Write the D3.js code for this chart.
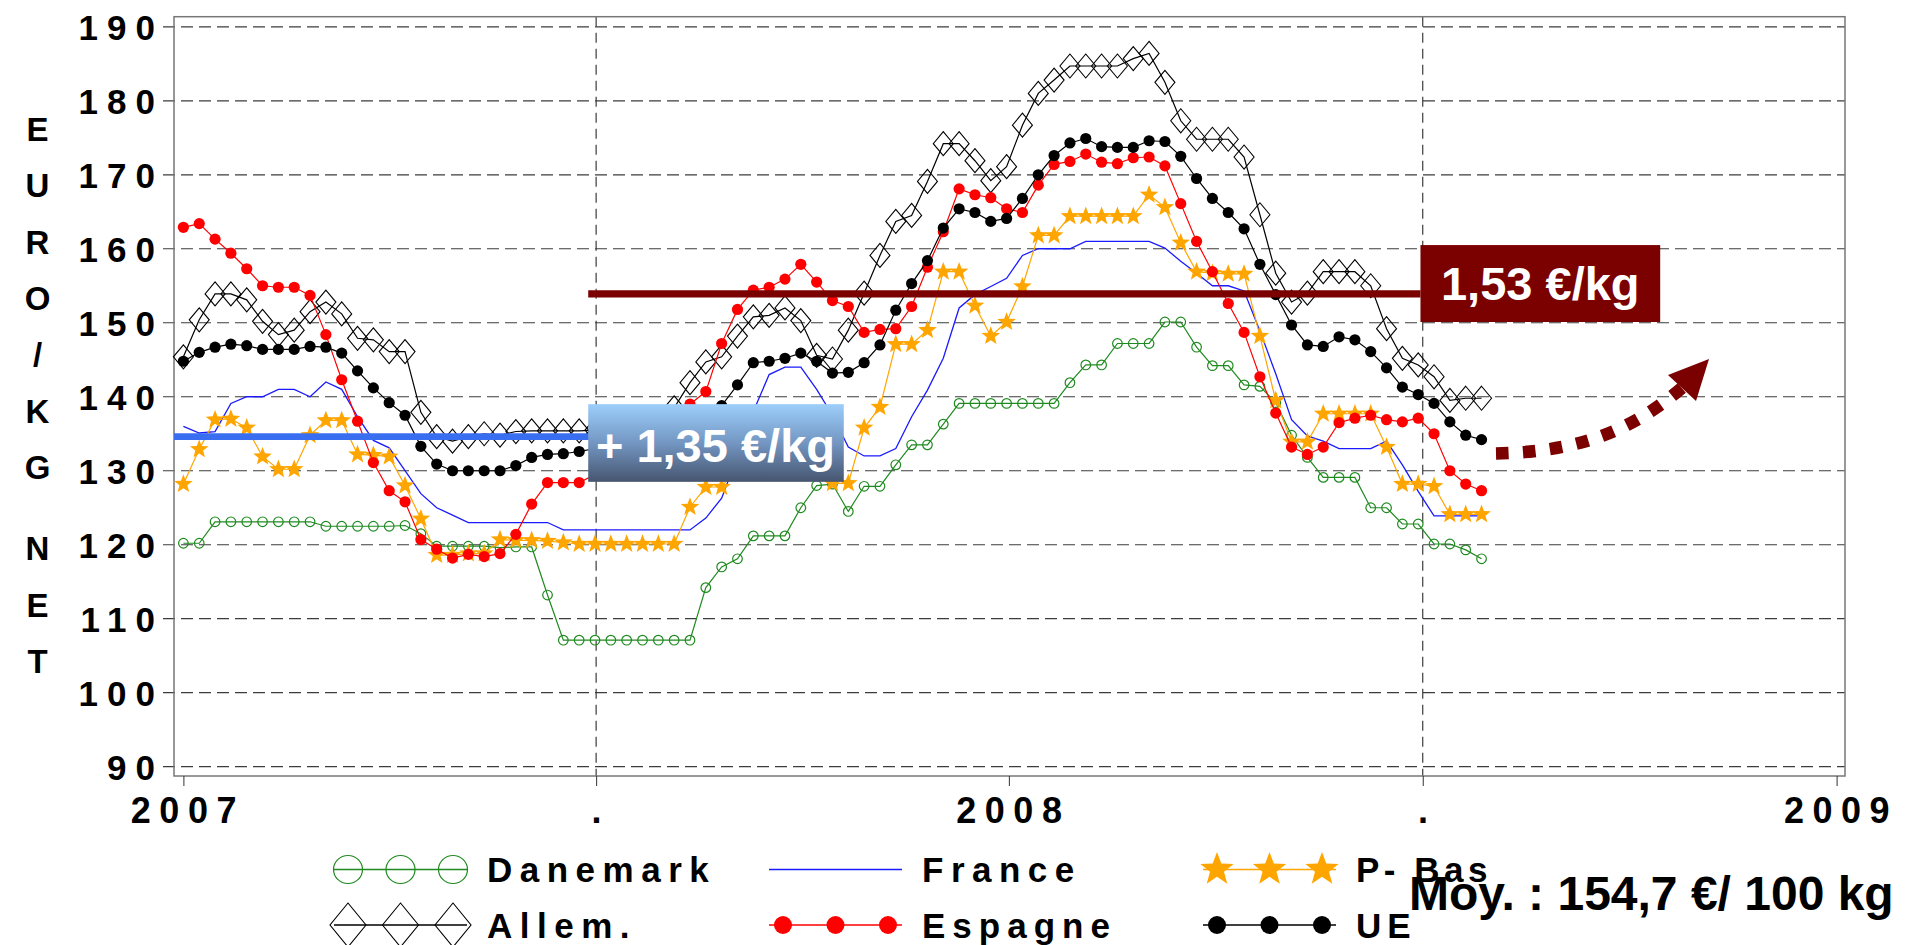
<!DOCTYPE html>
<html>
<head>
<meta charset="utf-8">
<script src="https://d3js.org/d3.v7.min.js"></script>
<style>
body { margin: 0; background: #ffffff; }
text { font-family: "Liberation Sans", Arial, sans-serif; font-weight: bold; }
</style>
</head>
<body>
<script>
//wrap everything in a self-executing function
(function(){

//weekly prices, euro / 100 kg net, first week = 1 Jan 2007
var firstWeek = new Date(2007, 0, 1);

var danemark = [120.2,120.2,123.1,123.1,123.1,123.1,123.1,123.1,123.1,122.5,
    122.5,122.5,122.5,122.5,122.6,121.5,119.8,119.8,119.8,119.8,
    119.6,119.7,119.7,113.2,107.1,107.1,107.1,107.1,107.1,107.1,
    107.1,107.1,107.1,114.2,117.0,118.1,121.2,121.2,121.2,125.0,
    128.0,128.2,124.5,127.9,127.9,130.8,133.5,133.5,136.3,139.1,
    139.1,139.1,139.1,139.1,139.1,139.1,141.9,144.3,144.3,147.2,
    147.2,147.2,150.1,150.1,146.7,144.2,144.2,141.6,141.4,139.2,
    134.8,131.8,129.1,129.1,129.1,125.0,125.0,122.8,122.8,120.1,
    120.1,119.3,118.1];

var allemagne = [145.4,150.4,153.9,153.9,153.1,150.2,148.4,149.0,151.5,152.8,
    151.2,147.9,147.7,146.1,146.1,137.9,134.6,134.0,134.6,135.0,
    134.8,135.3,135.4,135.4,135.4,135.4,135.5,135.5,136.0,136.5,
    137.0,138.5,141.9,144.7,145.4,148.2,150.8,151.0,152.0,150.3,
    145.6,145.1,149.0,154.0,159.1,163.7,164.5,169.1,174.2,174.2,
    171.9,169.2,171.1,176.7,181.0,182.8,184.7,184.7,184.7,184.7,
    185.7,186.4,182.5,177.3,174.8,174.8,174.8,172.4,164.6,156.7,
    152.8,154.0,156.9,156.9,156.9,155.0,149.2,145.2,144.3,142.7,
    139.5,139.8,139.8];

var france = [136.0,135.1,135.3,139.1,140.0,140.0,141.0,141.0,140.0,142.0,
    141.0,137.3,134.1,133.1,130.0,126.9,125.0,124.0,123.0,123.0,
    123.0,123.0,123.0,123.0,122.0,122.0,122.0,122.0,122.0,122.0,
    122.0,122.0,122.0,123.6,126.3,132.0,138.0,143.0,144.0,144.0,
    141.0,137.5,133.2,132.0,132.0,133.0,137.3,140.9,145.2,152.0,
    153.8,154.9,156.0,159.1,160.0,160.0,160.0,161.0,161.0,161.0,
    161.0,161.0,160.1,158.3,156.7,155.0,155.0,154.3,148.9,143.1,
    136.9,134.7,134.0,133.0,133.0,133.0,134.0,130.8,127.2,123.9,
    123.9,123.9,123.9];

var espagne = [162.9,163.4,161.3,159.4,157.3,155.0,154.8,154.8,153.7,148.4,
    142.3,136.7,131.1,127.3,125.8,120.7,119.4,118.2,118.7,118.4,
    118.8,121.4,125.5,128.4,128.4,128.4,129.5,131.0,132.5,134.0,
    136.0,137.5,139.0,140.7,147.2,151.8,154.4,154.8,155.9,157.9,
    155.5,153.0,152.2,148.7,149.1,149.2,152.2,157.5,162.3,168.1,
    167.3,166.9,165.4,164.9,168.6,171.4,171.8,172.8,171.7,171.5,
    172.3,172.4,171.2,166.1,161.0,156.9,152.6,148.7,142.7,137.8,
    133.2,132.2,133.2,136.5,137.1,137.5,136.9,136.6,137.1,135.0,
    130.0,128.2,127.3];

var paysBas = [128.2,132.9,136.9,137.0,135.8,131.9,130.2,130.2,134.8,136.8,
    136.8,132.2,132.1,131.9,128.0,123.5,118.6,118.6,118.8,118.8,
    120.7,120.6,120.6,120.5,120.3,120.1,120.1,120.1,120.1,120.1,
    120.1,120.1,125.1,127.8,127.8,130.6,131.2,131.2,131.0,130.8,
    130.4,128.3,128.3,135.8,138.6,147.1,147.1,149.0,156.9,156.9,
    152.3,148.2,150.1,154.9,161.8,161.8,164.4,164.4,164.4,164.4,
    164.4,167.3,165.6,160.8,156.9,156.7,156.6,156.6,148.2,139.5,
    133.9,133.9,137.7,137.7,137.7,137.7,133.2,128.2,128.2,127.9,
    124.1,124.1,124.1];

var ue = [144.8,146.0,146.7,147.1,146.9,146.4,146.4,146.4,146.8,146.7,
    145.9,143.5,141.2,139.2,137.5,133.3,130.9,130.0,130.0,130.0,
    130.0,130.7,131.8,132.2,132.3,132.6,133.0,133.5,134.0,134.5,
    135.0,136.0,137.0,137.8,138.8,141.6,144.6,144.8,145.2,145.9,
    144.8,143.2,143.3,144.6,147.0,151.7,155.3,158.4,162.8,165.4,
    164.9,163.7,164.1,166.8,170.0,172.6,174.3,174.9,173.8,173.7,
    173.7,174.6,174.5,172.5,169.5,166.8,164.9,162.7,157.9,153.8,
    149.7,147.0,146.8,148.1,147.7,146.1,143.9,141.3,140.3,139.1,
    136.6,134.8,134.2];

//axis ticks and labels
var xTickDates = [new Date(2007,0,1), new Date(2007,6,2,12), new Date(2008,0,1), new Date(2008,6,2), new Date(2009,0,1)];
var xTickLabels = ["2007", ".", "2008", ".", "2009"];
var yTicks = [90,100,110,120,130,140,150,160,170,180,190];
var yTitle = ["E","U","R","O","/","K","G","N","E","T"];

//annotations
var refLevel = 134.6,
    refEnd = new Date(2007,6,6),
    refLabel = "+ 1,35 €/kg",
    refBox = [new Date(2007,5,29), new Date(2007,9,20), 128.5, 139.0];
var avgLevel = 153.9,
    avgLabel = "1,53 €/kg",
    avgBox = [new Date(2008,6,1), new Date(2008,9,15), 150.1, 160.5];
var moyLabel = "Moy. : 154,7 €/ 100 kg";

//legend
var legendNames = ["Danemark", "Allem.", "France", "Espagne", "P- Bas", "UE"];

//page frame
var width = 1907, height = 945;
var frame = {left: 174, right: 1845, top: 16.7, bottom: 776};

var svg = d3.select("body")
    .append("svg")
    .attr("width", width)
    .attr("height", height);

var x = d3.scaleTime()
    .domain([new Date(2007,0,1), new Date(2009,0,1)])
    .range([183.4, 1836.6]);

var y = d3.scaleLinear()
    .domain([90, 190])
    .range([766.7, 26.8]);

function weekDate(i){
    return d3.timeDay.offset(firstWeek, 7 * i);
};

//series settings
var series = [
    {name: legendNames[0], values: danemark, color: "#1f8a1f", mark: "circle", spacing: 7.5},
    {name: legendNames[1], values: allemagne, color: "#000000", mark: "diamond", spacing: 7.5},
    {name: legendNames[2], values: france, color: "#1a1aff", mark: "none", spacing: 7.5},
    {name: legendNames[4], values: paysBas, color: "#ffa500", mark: "star", spacing: 4.5},
    {name: legendNames[3], values: espagne, color: "#ff0000", mark: "dot", spacing: 7},
    {name: legendNames[5], values: ue, color: "#000000", mark: "dot", spacing: 6}
];

//star and diamond shapes
function starPath(cx, cy, R){
    var pts = [];
    for (var k=0; k<10; k++){
        var a = -Math.PI/2 + k * Math.PI/5;
        var rad = (k % 2 === 0) ? R : R * 0.42;
        pts.push([cx + rad*Math.cos(a), cy + rad*Math.sin(a)]);
    };
    return "M" + pts.join("L") + "Z";
};
function diamondPath(cx, cy, hw, hh){
    return "M" + cx + "," + (cy-hh) + "L" + (cx+hw) + "," + cy + "L" + cx + "," + (cy+hh) + "L" + (cx-hw) + "," + cy + "Z";
};

function drawMarks(g, pts, s, big){
    if (s.mark == "circle"){
        g.selectAll(null).data(pts).enter().append("ellipse")
            .attr("cx", function(d){ return d[0]; })
            .attr("cy", function(d){ return d[1]; })
            .attr("rx", big ? 14.5 : 4.8)
            .attr("ry", big ? 14 : 4.8)
            .attr("fill", "none")
            .attr("stroke", s.color)
            .attr("stroke-width", 1.2);
    } else if (s.mark == "dot"){
        g.selectAll(null).data(pts).enter().append("circle")
            .attr("cx", function(d){ return d[0]; })
            .attr("cy", function(d){ return d[1]; })
            .attr("r", big ? 9 : 5.6)
            .attr("fill", s.color);
    } else if (s.mark == "diamond"){
        g.selectAll(null).data(pts).enter().append("path")
            .attr("d", function(d){ return big ? diamondPath(d[0], d[1], 18, 22) : diamondPath(d[0], d[1], 10, 12); })
            .attr("fill", "none")
            .attr("stroke", s.color)
            .attr("stroke-width", 1.1);
    } else if (s.mark == "star"){
        g.selectAll(null).data(pts).enter().append("path")
            .attr("d", function(d){ return starPath(d[0], d[1], big ? 17.5 : 9.8); })
            .attr("fill", s.color);
    };
};

//horizontal dashed grid
svg.append("g")
    .selectAll("line")
    .data(yTicks)
    .enter()
    .append("line")
    .attr("x1", 163)
    .attr("x2", frame.right)
    .attr("y1", function(d){ return y(d); })
    .attr("y2", function(d){ return y(d); })
    .attr("stroke", "#3c3c3c")
    .attr("stroke-width", 1.2)
    .attr("stroke-dasharray", "12,6");

//vertical dashed lines at half years
svg.append("g")
    .selectAll("line")
    .data([xTickDates[1], xTickDates[3]])
    .enter()
    .append("line")
    .attr("x1", function(d){ return x(d); })
    .attr("x2", function(d){ return x(d); })
    .attr("y1", frame.top)
    .attr("y2", frame.bottom)
    .attr("stroke", "#3c3c3c")
    .attr("stroke-width", 1.2)
    .attr("stroke-dasharray", "10,6");

//plot frame
svg.append("rect")
    .attr("x", frame.left)
    .attr("y", frame.top)
    .attr("width", frame.right - frame.left)
    .attr("height", frame.bottom - frame.top)
    .attr("fill", "none")
    .attr("stroke", "#777777")
    .attr("stroke-width", 1.5);

//x axis
var xAxis = d3.axisBottom(x)
    .tickValues(xTickDates)
    .tickFormat(function(d, i){ return xTickLabels[i]; })
    .tickSize(10)
    .tickPadding(11.4);

var xg = svg.append("g")
    .attr("transform", "translate(0," + frame.bottom + ")")
    .style("color", "#333333")
    .call(xAxis);
xg.select(".domain").remove();
xg.selectAll("text")
    .style("font-size", "36px")
    .style("letter-spacing", "8.5px")
    .attr("dx", 4)
    .attr("fill", "#000000");

//y axis labels
var yAxis = d3.axisLeft(y)
    .tickValues(yTicks)
    .tickSize(0)
    .tickPadding(10);

var yg = svg.append("g")
    .attr("transform", "translate(" + frame.left + ",0)")
    .call(yAxis);
yg.select(".domain").remove();
yg.selectAll("text")
    .style("font-size", "35px")
    .style("letter-spacing", "9px")
    .attr("dy", "0.36em")
    .attr("fill", "#000000");

//vertical title letters
svg.append("g")
    .selectAll("text")
    .data(yTitle)
    .enter()
    .append("text")
    .attr("x", 37.5)
    .attr("y", function(d, i){
        var k = i < 7 ? i : i + 0.45;
        return 129 + k * 56.3 + 12;
    })
    .attr("text-anchor", "middle")
    .style("font-size", "33px")
    .text(function(d){ return d; });

//series lines and marks
var line = d3.line()
    .x(function(d){ return d[0]; })
    .y(function(d){ return d[1]; });

series.forEach(function(s){
    var pts = s.values.map(function(v, i){
        return [x(weekDate(i)), y(v)];
    });
    var g = svg.append("g").attr("class", "series");
    g.append("path")
        .datum(pts)
        .attr("d", line)
        .attr("fill", "none")
        .attr("stroke", s.color)
        .attr("stroke-width", s.mark == "none" ? 1.3 : 1.2);
    drawMarks(g, pts, s, false);
});

//blue reference bar
svg.append("line")
    .attr("x1", frame.left)
    .attr("x2", x(refEnd))
    .attr("y1", y(refLevel))
    .attr("y2", y(refLevel))
    .attr("stroke", "#3a6ef0")
    .attr("stroke-width", 6.8);

//maroon average line
svg.append("line")
    .attr("x1", x(refBox[0]))
    .attr("x2", x(avgBox[0]))
    .attr("y1", y(avgLevel))
    .attr("y2", y(avgLevel))
    .attr("stroke", "#7b0000")
    .attr("stroke-width", 7.3);

//gradient for the blue label box
var defs = svg.append("defs");
var grad = defs.append("linearGradient")
    .attr("id", "refGrad")
    .attr("x1", 0).attr("y1", 0)
    .attr("x2", 0).attr("y2", 1);
grad.append("stop").attr("offset", "0%").attr("stop-color", "#9dcefb");
grad.append("stop").attr("offset", "50%").attr("stop-color", "#7396c2");
grad.append("stop").attr("offset", "100%").attr("stop-color", "#46556f");

svg.append("rect")
    .attr("x", x(refBox[0]))
    .attr("y", y(refBox[3]))
    .attr("width", x(refBox[1]) - x(refBox[0]))
    .attr("height", y(refBox[2]) - y(refBox[3]))
    .attr("fill", "url(#refGrad)");

svg.append("text")
    .attr("x", x(refBox[0]) + 7.7)
    .attr("y", y(refBox[3]) + 57.7)
    .attr("fill", "#ffffff")
    .style("font-size", "47px")
    .text(refLabel);

svg.append("rect")
    .attr("x", x(avgBox[0]))
    .attr("y", y(avgBox[3]))
    .attr("width", x(avgBox[1]) - x(avgBox[0]))
    .attr("height", y(avgBox[2]) - y(avgBox[3]))
    .attr("fill", "#7b0000");

svg.append("text")
    .attr("x", x(avgBox[0]) + 20.5)
    .attr("y", y(avgBox[3]) + 55)
    .attr("fill", "#ffffff")
    .style("font-size", "47px")
    .text(avgLabel);

//dotted arrow
svg.append("path")
    .attr("d", "M1496,453.5 C1565,452 1625,438 1684,386")
    .attr("fill", "none")
    .attr("stroke", "#7b0000")
    .attr("stroke-width", 12.5)
    .attr("stroke-dasharray", "12.5,14.5");
svg.append("path")
    .attr("d", "M1668,375 L1709,359 L1696,401 Z")
    .attr("fill", "#7b0000");

//legend
var legendPos = [
    {s: series[0], x: 334, y: 869.5},
    {s: series[1], x: 334, y: 925},
    {s: series[2], x: 769, y: 869.5},
    {s: series[4], x: 769, y: 925},
    {s: series[3], x: 1203, y: 869.5},
    {s: series[5], x: 1203, y: 925}
];

legendPos.forEach(function(p){
    var g = svg.append("g").attr("class", "legend");
    var w = 133;
    g.append("line")
        .attr("x1", p.x).attr("x2", p.x + w)
        .attr("y1", p.y).attr("y2", p.y)
        .attr("stroke", p.s.color)
        .attr("stroke-width", 1.4);
    var pts = [[p.x + 14, p.y], [p.x + w/2, p.y], [p.x + w - 14, p.y]];
    drawMarks(g, pts, p.s, true);
    g.append("text")
        .attr("x", p.x + 153)
        .attr("y", p.y + 12.5)
        .style("font-size", "35px")
        .style("letter-spacing", p.s.spacing + "px")
        .text(p.s.name);
});

//average note
svg.append("text")
    .attr("x", 1409)
    .attr("y", 910)
    .style("font-size", "48px")
    .text(moyLabel);

})();
</script>
</body>
</html>
